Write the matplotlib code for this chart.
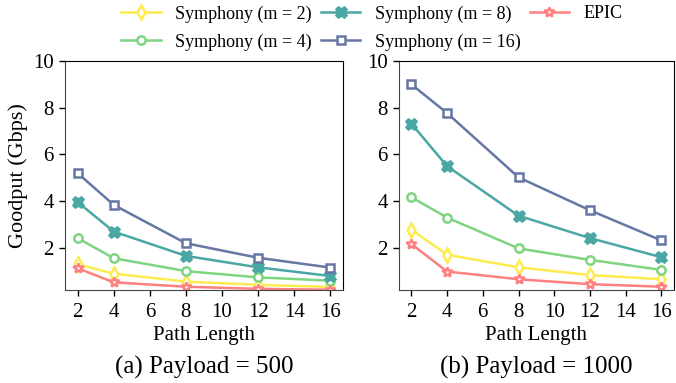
import numpy as np
import matplotlib
matplotlib.use("Agg")
import matplotlib.pyplot as plt

##### data #####
PATH_LENGTHS = [2, 4, 8, 12, 16]

LABELS = ["Symphony (m = 2)", "Symphony (m = 4)", "Symphony (m = 8)",
          "Symphony (m = 16)", "EPIC"]

# payload = 500
P500_M2 = [1.30, 0.90, 0.56, 0.42, 0.33]
P500_M4 = [2.42, 1.56, 1.01, 0.74, 0.60]
P500_M8 = [3.96, 2.70, 1.66, 1.17, 0.80]
P500_M16 = [5.20, 3.84, 2.20, 1.58, 1.16]
P500_EPIC = [1.13, 0.53, 0.34, 0.25, 0.21]

# payload = 1000
P1000_M2 = [2.78, 1.71, 1.17, 0.84, 0.66]
P1000_M4 = [4.17, 3.30, 1.98, 1.49, 1.06]
P1000_M8 = [7.32, 5.50, 3.38, 2.42, 1.60]
P1000_M16 = [9.00, 7.77, 5.02, 3.61, 2.32]
P1000_EPIC = [2.17, 0.99, 0.66, 0.45, 0.34]

TITLES = ["(a) Payload = 500", "(b) Payload = 1000"]

##### styles #####
COLORS = ["#fdeb4f", "#7fd482", "#4aa7a3", "#6677a5", "#ff8080"]
MARKERS = ["d", "o", "X", "s", "*"]
MSIZES = [7.5, 6, 7.5, 6, 7.5]
FACES = ["white", "white", None, "white", "white"]

plt.rcParams["font.family"] = ["Liberation Serif", "DejaVu Serif"]

fig = plt.figure(figsize=(6.76, 3.83), dpi=100)
ax1 = fig.add_axes([0.0962, 0.2428, 0.411, 0.598])
ax2 = fig.add_axes([0.590, 0.2428, 0.407, 0.598])

panels = [
    (ax1, [P500_M2, P500_M4, P500_M8, P500_M16, P500_EPIC]),
    (ax2, [P1000_M2, P1000_M4, P1000_M8, P1000_M16, P1000_EPIC]),
]

for (ax, series), title in zip(panels, TITLES):
    for vals, lab, col, mk, ms, fc in zip(series, LABELS, COLORS, MARKERS,
                                          MSIZES, FACES):
        ax.plot(PATH_LENGTHS, vals, color=col, linewidth=1.8, marker=mk,
                markersize=ms, markeredgewidth=1.8,
                markerfacecolor=fc if fc else col, markeredgecolor=col,
                label=lab)
    ax.set_ylim(0.2, 10)
    ax.set_yticks([2, 4, 6, 8, 10])
    ax.set_xticks([2, 4, 6, 8, 10, 12, 14, 16])
    ax.tick_params(labelsize=15, direction="out", length=4, width=1, pad=4)
    ax.tick_params(axis="x", pad=5.5)
    ax.set_xlabel("Path Length", fontsize=15, labelpad=3)
    ax.text(0.5, -0.365, title, transform=ax.transAxes, ha="center",
            va="baseline", fontsize=18)
    for side in ["left", "bottom"]:
        ax.spines[side].set_color("#444444")

ax1.set_ylabel("Goodput (Gbps)", fontsize=16, labelpad=4)

handles, labels = ax1.get_legend_handles_labels()
fig.legend(handles, labels, loc="center", bbox_to_anchor=(0.55, 0.927),
           ncol=3, frameon=False, fontsize=13, handlelength=2.2,
           handletextpad=0.8, columnspacing=0.5, labelspacing=0.6,
           borderaxespad=0, borderpad=0)

fig.savefig("out.png", dpi=100)
